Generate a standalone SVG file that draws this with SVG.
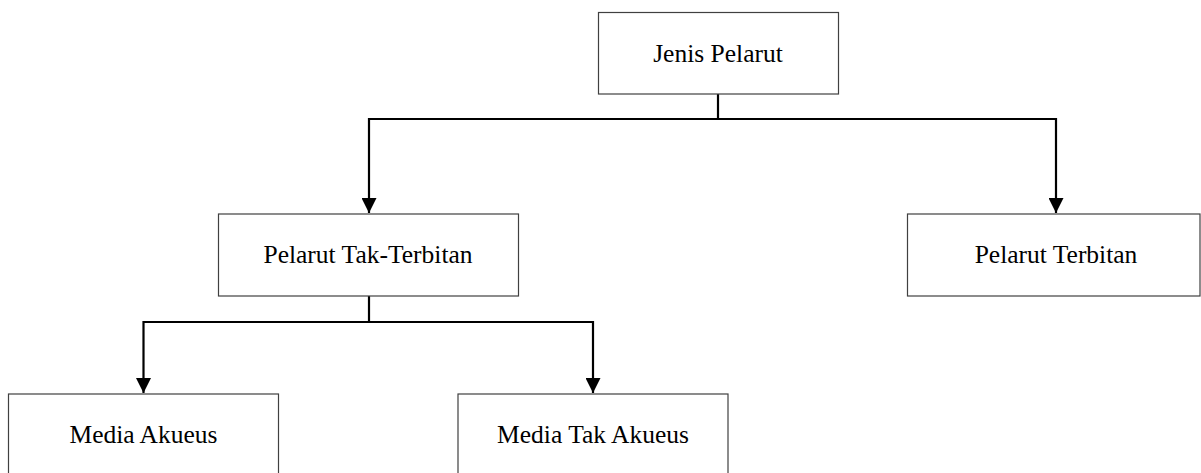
<svg xmlns="http://www.w3.org/2000/svg" width="1201" height="473" viewBox="0 0 1201 473">
<style>
.box{fill:#fff;stroke:#404040;stroke-width:1.2}
.lbl{font-family:"Liberation Serif","Times New Roman",serif;font-size:25.5px;fill:#000;text-anchor:middle}
.con{fill:none;stroke:#000;stroke-width:2.2}
</style>
<defs>
<marker id="arr" viewBox="0 0 10 10" refX="10" refY="5" markerWidth="15" markerHeight="15" markerUnits="userSpaceOnUse" orient="auto">
<path d="M0,0 L10,5 L0,10 Z" fill="#000"/>
</marker>
</defs>
<rect width="1201" height="473" fill="#fff"/>
<g id="connectors">
<path class="con" d="M718,94 V119"/>
<path class="con" d="M718,119 H369 V213" marker-end="url(#arr)"/>
<path class="con" d="M718,119 H1056 V213" marker-end="url(#arr)"/>
<path class="con" d="M369,296 V322"/>
<path class="con" d="M369,322 H143.5 V393" marker-end="url(#arr)"/>
<path class="con" d="M369,322 H593 V393" marker-end="url(#arr)"/>
</g>
<g id="n-jenis">
<rect class="box" x="598.5" y="12.5" width="240" height="81.5"/>
<text class="lbl" x="718" y="62">Jenis Pelarut</text>
</g>
<g id="n-takterbitan">
<rect class="box" x="218.5" y="214" width="300" height="82"/>
<text class="lbl" x="368" y="263">Pelarut Tak-Terbitan</text>
</g>
<g id="n-terbitan">
<rect class="box" x="907.5" y="214" width="292.5" height="82"/>
<text class="lbl" x="1056" y="263">Pelarut Terbitan</text>
</g>
<g id="n-akueus">
<rect class="box" x="8.5" y="394" width="270" height="90"/>
<text class="lbl" x="143.5" y="443">Media Akueus</text>
</g>
<g id="n-takakueus">
<rect class="box" x="458" y="394" width="270" height="90"/>
<text class="lbl" x="593" y="443">Media Tak Akueus</text>
</g>
</svg>
